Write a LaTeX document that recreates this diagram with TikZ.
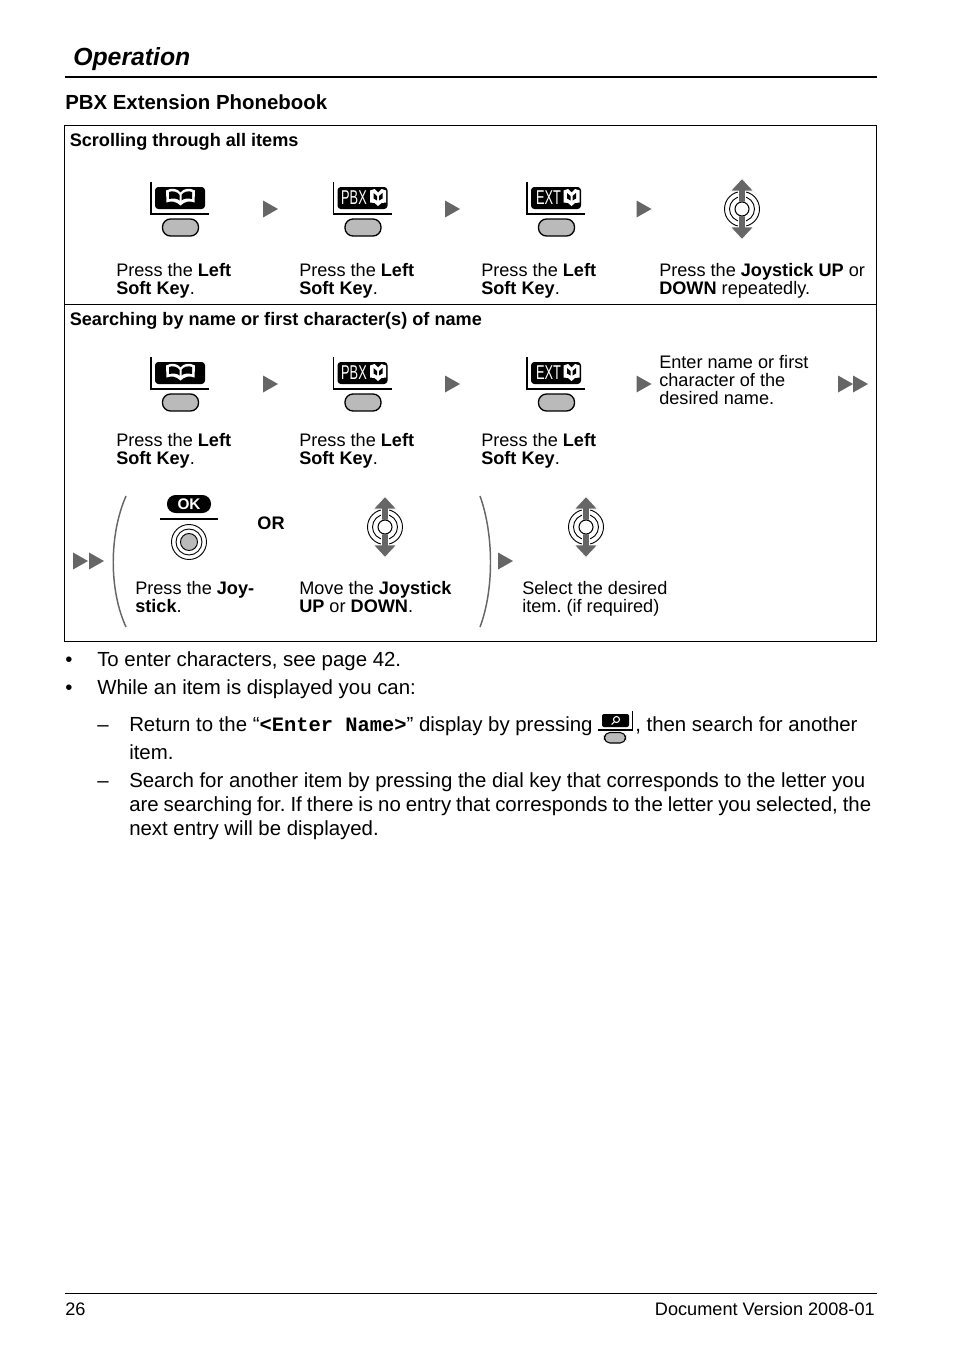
\documentclass[tikz,border=0pt]{standalone}
\usepackage{fontspec}
\setmainfont{Liberation Sans}
\setmonofont{Liberation Mono}
\definecolor{keygray}{HTML}{BABABA}
\definecolor{arrowgray}{HTML}{666666}

\tikzset{
  lbl/.style={anchor=base west,inner sep=0,align=left,font=\fontsize{13.6}{13.5}\selectfont},
  body/.style={anchor=base west,inner sep=0,font=\fontsize{15.3}{18}\selectfont},
  tagtext/.style={text=white,inner sep=0,font=\fontsize{15}{15}\selectfont,xscale=.64,transform shape},
  book/.pic={
    \fill[white] (-14.5,-7) .. controls (-9,-10) and (-3,-9) .. (0,-5) .. controls (3,-9) and (9,-10) .. (14.5,-7)
      -- (14,5) .. controls (9,3) and (4,4) .. (0,8) .. controls (-4,4) and (-9,3) .. (-14,5) -- cycle;
    \fill[black] (-11.5,-5.5) .. controls (-8,-7) and (-3,-6) .. (-1,-2.5) -- (-1,3) .. controls (-3,1) and (-7,.5) .. (-11.5,1.5) -- cycle;
    \fill[black] (11.5,-5.5) .. controls (8,-7) and (3,-6) .. (1,-2.5) -- (1,3) .. controls (3,1) and (7,.5) .. (11.5,1.5) -- cycle;
  },
  tagbook/.pic={
    \fill[white] (-8,-7) -- (-3.5,-8.5) -- (0,-5) -- (3.5,-8.5) -- (8,-7) -- (8,5) -- (3.5,5.5) -- (0,8.5) -- (-3.5,5.5) -- (-8,5) -- cycle;
    \fill[black] (-4.5,-4.5) -- (-1,-1.5) -- (-1,3) -- (-4.5,1) -- cycle;
    \fill[black] (4.5,-4.5) -- (1,-1.5) -- (1,3) -- (4.5,1) -- cycle;
  },
  softkey/.pic={
    \draw[line width=1.1pt] (0,-32) -- (0,0) -- (58,0);
    \fill[black,rounded corners=2.5pt] (4,-27) rectangle (54,-5);
    \draw[line width=1pt,fill=keygray,rounded corners=6pt] (11.5,5) rectangle (47.5,22);
  },
  tri/.pic={\fill[arrowgray] (0,-8.5) -- (15,0) -- (0,8.5) -- cycle;},
  joystick/.pic={
    \draw[line width=.7pt] (0,0) circle (17.5) (0,0) circle (12.5);
    \filldraw[fill=arrowgray,draw=white,line width=.5pt] (0,-30.5) -- (11.5,-18) -- (3.5,-18) -- (3.5,-7) -- (-3.5,-7) -- (-3.5,-18) -- (-11.5,-18) -- cycle;
    \filldraw[fill=arrowgray,draw=white,line width=.5pt] (0,30.5) -- (11.5,18) -- (3.5,18) -- (3.5,7) -- (-3.5,7) -- (-3.5,18) -- (-11.5,18) -- cycle;
    \draw[line width=.8pt,fill=white] (0,0) circle (7);
  }
}

\begin{document}
\frenchspacing
\begin{tikzpicture}[x=.75pt,y=-.75pt]
  \useasboundingbox (0,0) rectangle (954,1352);

  % page head
  \node[anchor=base west,inner sep=0,font=\fontsize{18.6}{20}\selectfont\bfseries\itshape] (title) at (73,65.5) {Operation};
  \draw[line width=1.5pt] (65,77) -- (877,77);
  \node[anchor=base west,inner sep=0,font=\fontsize{15.3}{18}\selectfont\bfseries] (head) at (65,109.5) {PBX Extension Phonebook};

  % frame
  \draw[line width=.7pt] (64.5,125.5) rectangle (876,641);
  \draw[line width=.7pt] (64.5,304.5) -- (876,304.5);
  \node[lbl] (scroll) at (69.5,146.5) {\bfseries Scrolling through all items};
  \node[lbl] (search) at (69.5,325) {\bfseries Searching by name or first character(s) of name};

  % first row
  \pic (k1) at (151,214) {softkey};
  \pic at (180.5,197.5) {book};
  \pic (k2) at (333.5,214) {softkey};
  \node[tagtext] (p1) at (354,198) {PBX};
  \pic at (378,197.5) {tagbook};
  \pic (k3) at (527,214) {softkey};
  \node[tagtext] (e1) at (548.5,198) {EXT};
  \pic at (571.5,197.5) {tagbook};
  \pic at (263,209) {tri};
  \pic at (445,209) {tri};
  \pic at (636.5,209) {tri};
  \pic at (742,209) {joystick};
  \node[lbl] (t1) at (116,294) {Press the \textbf{Left}\\\textbf{Soft Key}.};
  \node[lbl] (t2) at (299,294) {Press the \textbf{Left}\\\textbf{Soft Key}.};
  \node[lbl] (t3) at (481,294) {Press the \textbf{Left}\\\textbf{Soft Key}.};
  \node[lbl] (t4) at (659,294) {Press the \textbf{Joystick UP} or\\\textbf{DOWN} repeatedly.};

  % second row
  \pic (k4) at (151,389) {softkey};
  \pic at (180.5,372.5) {book};
  \pic (k5) at (333.5,389) {softkey};
  \node[tagtext] (p2) at (354,373) {PBX};
  \pic at (378,372.5) {tagbook};
  \pic (k6) at (527,389) {softkey};
  \node[tagtext] (e2) at (548.5,373) {EXT};
  \pic at (571.5,372.5) {tagbook};
  \pic at (263,384) {tri};
  \pic at (445,384) {tri};
  \pic at (636.5,384) {tri};
  \pic at (838,384) {tri};
  \pic at (853,384) {tri};
  \node[lbl] (t5) at (116,464) {Press the \textbf{Left}\\\textbf{Soft Key}.};
  \node[lbl] (t6) at (299,464) {Press the \textbf{Left}\\\textbf{Soft Key}.};
  \node[lbl] (t7) at (481,464) {Press the \textbf{Left}\\\textbf{Soft Key}.};
  \node[lbl] (t8) at (659,404) {Enter name or first\\character of the\\desired name.};

  % third row
  \pic at (73,561) {tri};
  \pic at (89,561) {tri};
  \draw[arrowgray,line width=1.1pt] (126,496) .. controls (109,535) and (109,590) .. (126,627);
  \draw[arrowgray,line width=1.1pt] (480,496) .. controls (494,535) and (494,590) .. (480,627);
  \node[fill=black,rounded corners=6.5pt,minimum width=33pt,minimum height=13.5pt,inner sep=0,text=white,font=\fontsize{11.5}{12}\selectfont\bfseries] (ok) at (189,504) {OK};
  \draw[line width=1.1pt] (160,519) -- (218,519);
  \draw[line width=.7pt] (189,542) circle (17.5) (189,542) circle (13);
  \draw[line width=.7pt,fill=keygray] (189,542) circle (8.5);
  \node[lbl,font=\fontsize{13.6}{13.5}\selectfont\bfseries,anchor=base] (or) at (271,529) {OR};
  \pic at (385,527) {joystick};
  \pic at (586,527) {joystick};
  \pic at (498,561) {tri};
  \node[lbl] (t9) at (135,612) {Press the \textbf{Joy-}\\\textbf{stick}.};
  \node[lbl] (t10) at (299,612) {Move the \textbf{Joystick}\\\textbf{UP} or \textbf{DOWN}.};
  \node[lbl] (t11) at (522,612) {Select the desired\\item. (if required)};

  % notes
  \node[body] (b1) at (65,666) {•};
  \node[body] (n1) at (97,666) {To enter characters, see page 42.};
  \node[body] (b2) at (65,694) {•};
  \node[body] (n2) at (97,694) {While an item is displayed you can:};
  \node[body] (d1) at (97,731) {–};
  \node[body] (n3) at (129,731) {Return to the “\texttt{\bfseries <Enter Name>}” display by pressing};
  \draw[line width=.8pt] (632.5,711) -- (632.5,730) -- (598,730);
  \fill[black,rounded corners=1.5pt] (602,714) rectangle (629,727);
  \draw[white,line width=.8pt] (616.5,719.5) circle (3) (614.5,721.5) -- (611.5,724.5);
  \draw[line width=.8pt,fill=keygray,rounded corners=4pt] (604.5,732.5) rectangle (625.5,743);
  \node[body] (n3b) at (635,731) {, then search for another};
  \node[body] (n3c) at (129,759) {item.};
  \node[body] (d2) at (97,787) {–};
  \node[body] (n4) at (129,787) {Search for another item by pressing the dial key that corresponds to the letter you};
  \node[body] (n5) at (129,811) {\hbox to 556.5pt{are searching for. If there is no entry that corresponds to the letter you selected, the}};
  \node[body] (n6) at (129,835) {next entry will be displayed.};

  % foot
  \draw[line width=.5pt] (65,1293.5) -- (877,1293.5);
  \node[lbl] (page) at (65,1315) {26};
  \node[lbl,anchor=base east] (ver) at (875,1315) {Document Version 2008-01};
\end{tikzpicture}
\end{document}
